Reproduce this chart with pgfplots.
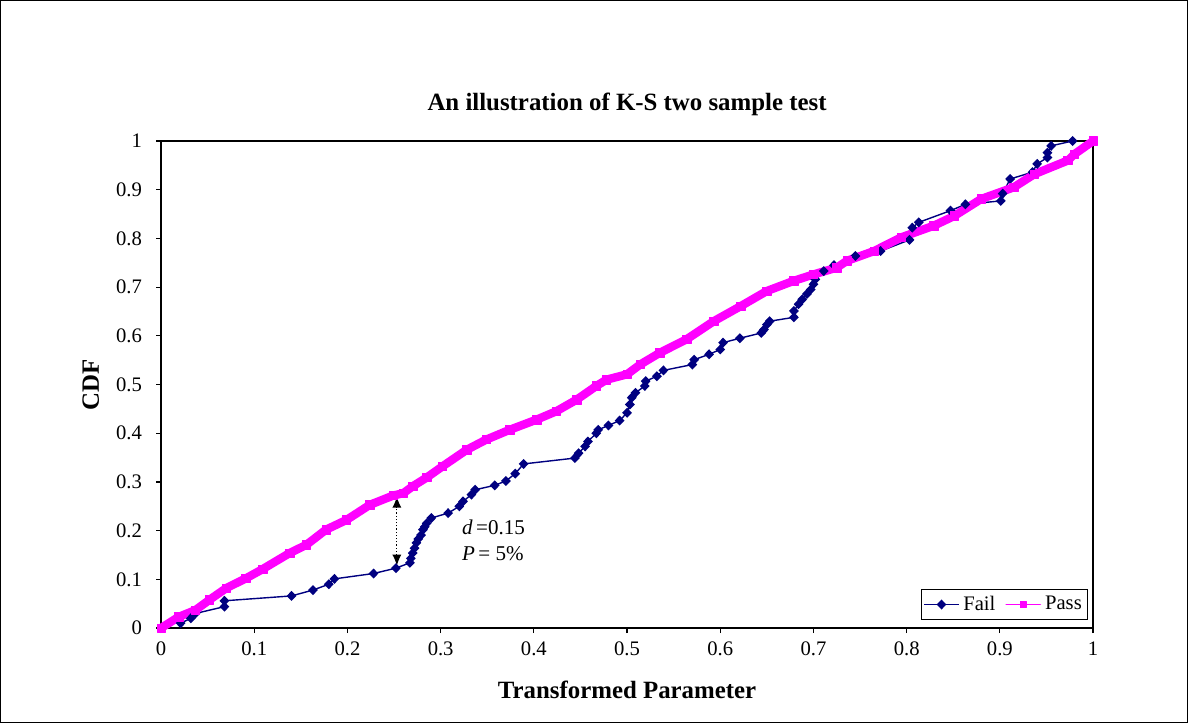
\documentclass[border=0pt]{standalone}
\usepackage{pgfplots}
\pgfplotsset{compat=1.18}
\usetikzlibrary{arrows.meta}
\usepackage{fontspec}
\setmainfont{Liberation Serif}
\definecolor{failc}{RGB}{0,0,128}
\definecolor{passc}{RGB}{255,0,255}
\begin{document}
\begin{tikzpicture}
\begin{axis}[name=ax,
  scale only axis, width=465pt, height=243pt,
  xmin=0, xmax=1, ymin=0, ymax=1,
  xtick={0,0.1,...,1.01}, ytick={0,0.1,...,1.01},
  xticklabels={0,0.1,0.2,0.3,0.4,0.5,0.6,0.7,0.8,0.9,1},
  yticklabels={0,0.1,0.2,0.3,0.4,0.5,0.6,0.7,0.8,0.9,1},
  tick pos=left, tick align=outside,
  major tick length=2.5pt,
  tick style={black, line width=0.6pt},
  axis line style={black, line width=0.6pt},
  ticklabel style={font=\fontsize{10.3}{11}\selectfont},
  xticklabel style={yshift=-1pt},
  yticklabel style={xshift=-3.5pt},
  /pgf/number format/assume math mode=true,
  xlabel={\textbf{Transformed Parameter}},
  ylabel={\textbf{CDF}},
  label style={font=\fontsize{12.4}{14}\selectfont},
  xlabel style={at={(axis description cs:0.5,0)}, anchor=center, yshift=-31pt},
  ylabel style={at={(axis description cs:-0.0753,0.5)}, anchor=center},
  legend style={at={(axis cs:0.995,0.017)}, anchor=south east, legend columns=2,
    font=\fontsize{10.3}{11}\selectfont, draw=black, line width=0.6pt,
    inner sep=1pt, /tikz/every even column/.append style={column sep=3pt}},
  legend cell align=left,
  clip=false,
]
\addplot[failc, line width=0.7pt, mark=diamond*, mark size=2pt, mark options={solid, fill=failc, xscale=1.3}] coordinates {
(0.021,0.010)(0.032,0.020)(0.037,0.030)(0.068,0.044)(0.068,0.056)(0.140,0.066)
(0.163,0.078)(0.180,0.090)(0.186,0.101)(0.228,0.112)(0.252,0.123)(0.267,0.134)
(0.268,0.143)(0.270,0.154)(0.272,0.164)(0.274,0.175)(0.276,0.183)(0.279,0.191)
(0.281,0.202)(0.283,0.208)(0.285,0.215)(0.290,0.226)(0.308,0.236)(0.320,0.250)
(0.324,0.260)(0.333,0.274)(0.337,0.284)(0.358,0.293)(0.370,0.302)(0.380,0.317)
(0.389,0.337)(0.444,0.349)(0.448,0.359)(0.455,0.373)(0.458,0.383)(0.467,0.400)
(0.469,0.407)(0.480,0.416)(0.492,0.426)(0.500,0.442)(0.503,0.459)(0.505,0.473)
(0.509,0.483)(0.519,0.497)(0.520,0.507)(0.532,0.517)(0.539,0.529)(0.570,0.541)
(0.572,0.551)(0.588,0.562)(0.600,0.572)(0.603,0.586)(0.621,0.595)(0.644,0.606)
(0.647,0.613)(0.650,0.623)(0.653,0.630)(0.679,0.638)(0.679,0.651)(0.684,0.665)
(0.688,0.675)(0.693,0.686)(0.697,0.695)(0.700,0.706)(0.702,0.716)(0.711,0.733)
(0.722,0.745)(0.745,0.764)(0.772,0.774)(0.803,0.797)(0.806,0.822)(0.813,0.833)
(0.847,0.857)(0.863,0.870)(0.901,0.877)(0.903,0.892)(0.911,0.922)(0.935,0.936)
(0.940,0.953)(0.951,0.966)(0.951,0.976)(0.955,0.990)(0.978,1.000)
};
\addlegendentry{Fail}
\addplot[passc, line width=4.2pt, line join=round, line cap=round, mark=square*, mark size=2.1pt, mark options={solid, fill=passc, line width=0.3pt},
  legend image post style={line width=0.7pt, mark size=1.5pt}] coordinates {
(0.000,0.000)(0.019,0.023)(0.037,0.037)(0.052,0.058)(0.070,0.082)(0.091,0.102)
(0.109,0.121)(0.138,0.154)(0.156,0.171)(0.177,0.202)(0.199,0.222)(0.224,0.253)
(0.249,0.272)(0.260,0.277)(0.270,0.291)(0.285,0.309)(0.302,0.332)(0.328,0.366)
(0.349,0.387)(0.374,0.407)(0.403,0.428)(0.424,0.445)(0.446,0.469)(0.467,0.497)
(0.478,0.510)(0.500,0.521)(0.514,0.541)(0.535,0.565)(0.564,0.593)(0.593,0.630)
(0.622,0.661)(0.650,0.692)(0.679,0.713)(0.700,0.726)(0.725,0.740)(0.736,0.754)
(0.765,0.774)(0.794,0.802)(0.829,0.826)(0.851,0.846)(0.880,0.881)(0.915,0.905)
(0.937,0.932)(0.973,0.960)(0.980,0.973)(1.000,1.000)
};
\addlegendentry{Pass}
\draw[densely dotted, line width=0.6pt, {Latex[length=5.5pt,width=4.5pt]}-{Latex[length=5.5pt,width=4.5pt]}]
  (axis cs:0.253,0.128) -- (axis cs:0.253,0.270);
\node[anchor=west, font=\fontsize{10.5}{12}\selectfont, inner sep=0pt] at (axis cs:0.3226,0.207) {\textit{d}\,=0.15};
\node[anchor=west, font=\fontsize{10.5}{12}\selectfont, inner sep=0pt] at (axis cs:0.3226,0.152) {\textit{P}\,= 5\%};
\end{axis}
\node[font=\bfseries\fontsize{12.4}{14}\selectfont] at ([yshift=18.5pt]ax.north) {An illustration of K-S two sample test};
\draw[black, line width=0.7pt] ([shift={(-80pt,-47pt)}]ax.south west) rectangle ([shift={(47pt,70pt)}]ax.north east);
\end{tikzpicture}
\end{document}
